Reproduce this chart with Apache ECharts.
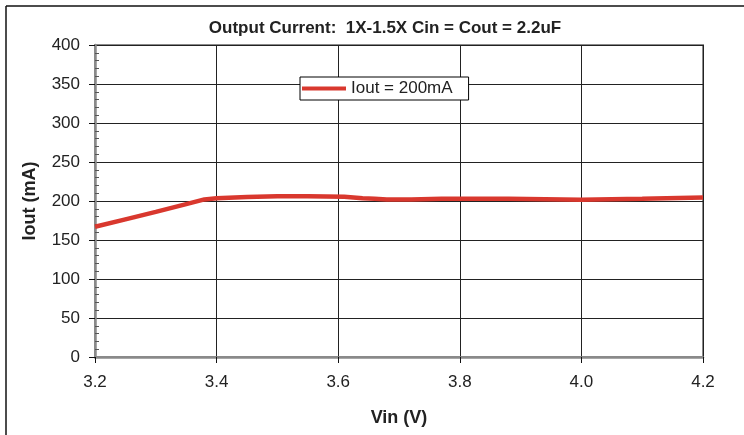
<!DOCTYPE html>
<html><head><meta charset="utf-8">
<script src="https://cdn.jsdelivr.net/npm/echarts@6/dist/echarts.min.js"></script>
<style>html,body{margin:0;padding:0;background:#fff}#c{width:744px;height:435px}</style>
</head><body><div id="c"></div>
<script>
const vin = [3.20, 3.25, 3.30, 3.35, 3.38, 3.40, 3.45, 3.50, 3.55, 3.61, 3.64, 3.66, 3.68, 3.72, 3.77, 3.88, 3.94, 4.00, 4.05, 4.10, 4.20];
const iout = [167, 176.5, 186, 196, 202, 203.5, 205, 206, 206, 205.5, 203.6, 202.8, 202, 202, 203, 203, 202.4, 201.5, 202.4, 203, 204.5];
const seriesName = 'Iout = 200mA';
const titleText = 'Output Current:  1X-1.5X Cin = Cout = 2.2uF';
const xName = 'Vin (V)';
const yName = 'Iout (mA)';
const FONT = "'Liberation Sans', Arial, sans-serif";

const chart = echarts.init(document.getElementById('c'));
chart.setOption({
  animation: false,
  textStyle: { fontFamily: FONT },
  title: {
    text: titleText, left: 380, top: 15, textAlign: 'center',
    textStyle: { fontFamily: FONT, fontSize: 17, fontWeight: 'bold', color: '#222' }
  },
  legend: {
    data: [seriesName], left: 300, top: 77,
    backgroundColor: '#fff', borderColor: '#000', borderWidth: 1,
    padding: [3, 16, 3, 2], itemWidth: 44, itemHeight: 4, itemGap: 4,
    icon: 'rect',
    textStyle: { fontFamily: FONT, fontSize: 17, color: '#222' }
  },
  graphic: [
    { type: 'line', shape: { x1: 6, y1: 6, x2: 744, y2: 6 }, style: { stroke: '#111', lineWidth: 1.5 } },
    { type: 'line', shape: { x1: 6, y1: 6, x2: 6, y2: 435 }, style: { stroke: '#111', lineWidth: 1.5 } }
  ],
  grid: { left: 95, right: 41, top: 45, bottom: 78, show: true, borderColor: '#8a8a8a', borderWidth: 2, backgroundColor: 'transparent' },
  xAxis: {
    type: 'value', min: 3.2, max: 4.2, interval: 0.2,
    name: xName, nameLocation: 'middle', nameGap: 52,
    nameTextStyle: { fontFamily: FONT, fontSize: 18, fontWeight: 'bold', color: '#222' },
    axisLine: { show: true, lineStyle: { color: '#8a8a8a', width: 2.5 } },
    axisTick: { show: true, length: 6, lineStyle: { color: '#111' } },
    axisLabel: { fontFamily: FONT, fontSize: 17, color: '#222', margin: 17, formatter: v => v.toFixed(1) },
    splitLine: { show: true, lineStyle: { color: '#222', width: 1 } }
  },
  yAxis: [{
    type: 'value', min: 0, max: 400, interval: 50,
    name: yName, nameLocation: 'middle', nameGap: 56, nameRotate: 90,
    nameTextStyle: { fontFamily: FONT, fontSize: 18, fontWeight: 'bold', color: '#222' },
    axisLine: { show: true, lineStyle: { color: '#8a8a8a', width: 2.5 } },
    axisTick: { show: true, length: 6, lineStyle: { color: '#111' } },
    axisLabel: { fontFamily: FONT, fontSize: 17, color: '#222', margin: 15 },
    splitLine: { show: true, lineStyle: { color: '#222', width: 1 } }
  }, {
    type: 'value', min: 0, max: 400, interval: 50, position: 'left',
    axisLine: { show: false },
    axisTick: { show: false, inside: true },
    minorTick: { show: true, splitNumber: 5, length: 4, lineStyle: { color: '#555' } },
    axisLabel: { show: false },
    splitLine: { show: false }
  }],
  series: [{
    name: seriesName, type: 'line', smooth: false,
    data: vin.map((v, i) => [v, iout[i]]),
    symbol: 'none',
    lineStyle: { color: '#d9382e', width: 4.5 },
    itemStyle: { color: '#d9382e' }
  }]
});
</script></body></html>
